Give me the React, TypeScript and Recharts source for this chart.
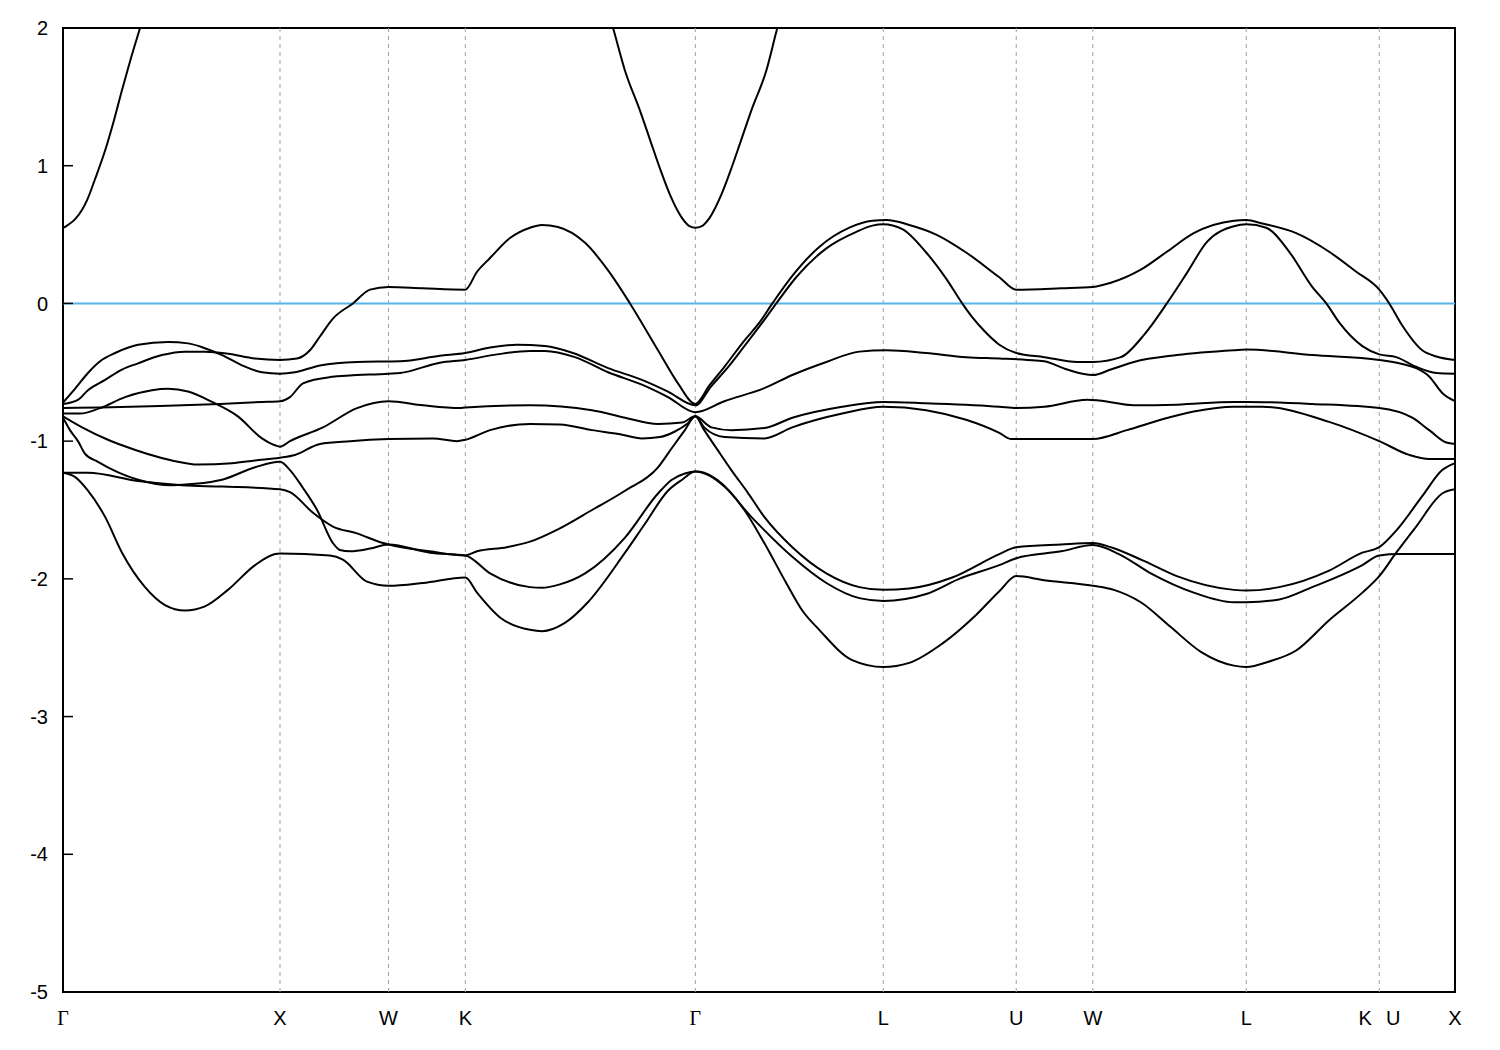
import React from "react";
import { LineChart, Line, XAxis, YAxis, ReferenceLine, ReferenceArea } from "recharts";

// High-symmetry points along the k-path (units of 2π/a); K|U share one position
const tickK = [0, 1, 1.5, 1.854, 2.914, 3.78, 4.393, 4.746, 5.453, 6.066, 6.415];
const tickLabels = ["Γ", "X", "W", "K", "Γ", "L", "U", "W", "L", "K|U", "X"];
const energyTicks = [-5, -4, -3, -2, -1, 0, 1, 2];
const fermiLevel = 0;
const kMax = 6.415;

type P = [number, number | null];

const band1: P[] = [
  [0, -1.23], [0.055, -1.26], [0.115, -1.36], [0.194, -1.55], [0.272, -1.81], [0.378, -2.06],
  [0.47, -2.19], [0.562, -2.23], [0.654, -2.2], [0.76, -2.08], [0.885, -1.9], [0.977, -1.82],
  [1.0, -1.815], [1.23, -1.83], [1.29, -1.86], [1.401, -2.02], [1.5, -2.05], [1.659, -2.03],
  [1.854, -1.99], [1.908, -2.1], [2.014, -2.28], [2.152, -2.37], [2.207, -2.38], [2.313, -2.32],
  [2.419, -2.17], [2.59, -1.81], [2.682, -1.6], [2.788, -1.36], [2.853, -1.28], [2.914, -1.22],
  [2.955, -1.23], [3.015, -1.28], [3.14, -1.5], [3.232, -1.74], [3.333, -2.03], [3.407, -2.23],
  [3.485, -2.37], [3.637, -2.59], [3.78, -2.64], [3.9, -2.61], [4.052, -2.47], [4.209, -2.26],
  [4.315, -2.09], [4.393, -1.98], [4.522, -2.01], [4.746, -2.05], [4.843, -2.08], [4.967, -2.17],
  [5.105, -2.35], [5.244, -2.53], [5.396, -2.63], [5.453, -2.64], [5.559, -2.6], [5.683, -2.52],
  [5.835, -2.3], [5.988, -2.1], [6.066, -1.98], [6.144, -1.81], [6.236, -1.62], [6.356, -1.38],
  [6.415, -1.35],
];

const band2: P[] = [
  [0, -0.83], [0.032, -0.92], [0.069, -1.0], [0.101, -1.09], [0.161, -1.15], [0.346, -1.28],
  [0.502, -1.32], [0.608, -1.31], [0.733, -1.28], [0.885, -1.19], [1.0, -1.15], [1.046, -1.21],
  [1.106, -1.34], [1.171, -1.5], [1.244, -1.74], [1.276, -1.79], [1.323, -1.8], [1.415, -1.78],
  [1.5, -1.75], [1.691, -1.81], [1.854, -1.83], [1.968, -1.96], [2.152, -2.06], [2.207, -2.065],
  [2.29, -2.04], [2.406, -1.96], [2.59, -1.7], [2.742, -1.38], [2.806, -1.28], [2.866, -1.235],
  [2.914, -1.22], [2.979, -1.25], [3.048, -1.33], [3.172, -1.55], [3.209, -1.61], [3.361, -1.84],
  [3.518, -2.03], [3.67, -2.14], [3.78, -2.16], [3.978, -2.11], [4.13, -2.0], [4.315, -1.9],
  [4.393, -1.85], [4.6, -1.8], [4.746, -1.755], [4.866, -1.82], [5.013, -1.96], [5.211, -2.1],
  [5.396, -2.17], [5.453, -2.17], [5.605, -2.15], [5.757, -2.06], [5.988, -1.9], [6.066, -1.83],
  [6.158, -1.82], [6.415, -1.82],
];

const band3: P[] = [
  [0, -1.23], [0.115, -1.23], [0.346, -1.29], [0.548, -1.32], [0.733, -1.33], [1.0, -1.35],
  [1.046, -1.37], [1.152, -1.52], [1.244, -1.62], [1.355, -1.67], [1.475, -1.74], [1.5, -1.75],
  [1.691, -1.8], [1.854, -1.83], [1.908, -1.8], [2.046, -1.77], [2.152, -1.73], [2.281, -1.64],
  [2.438, -1.5], [2.59, -1.36], [2.742, -1.19], [2.806, -1.05], [2.866, -0.92], [2.914, -0.82],
  [2.955, -0.92], [3.015, -1.06], [3.08, -1.21], [3.154, -1.37], [3.232, -1.55], [3.361, -1.77],
  [3.518, -1.96], [3.67, -2.06], [3.78, -2.08], [3.9, -2.07], [4.098, -1.99], [4.315, -1.82],
  [4.393, -1.77], [4.6, -1.75], [4.746, -1.74], [4.829, -1.77], [4.981, -1.87], [5.133, -1.98],
  [5.396, -2.08], [5.453, -2.085], [5.605, -2.06], [5.835, -1.94], [5.988, -1.81], [6.066, -1.77],
  [6.144, -1.65], [6.264, -1.4], [6.356, -1.21], [6.415, -1.16],
];

const band4: P[] = [
  [0, -0.82], [0.088, -0.9], [0.207, -0.99], [0.272, -1.03], [0.502, -1.14], [0.622, -1.17],
  [0.779, -1.16], [0.885, -1.14], [1.0, -1.12], [1.069, -1.1], [1.184, -1.02], [1.323, -1.0],
  [1.5, -0.985], [1.705, -0.98], [1.816, -1.0], [1.854, -0.99], [1.968, -0.92], [2.152, -0.875],
  [2.29, -0.88], [2.438, -0.92], [2.567, -0.95], [2.668, -0.98], [2.751, -0.97], [2.82, -0.93],
  [2.88, -0.87], [2.914, -0.82], [2.955, -0.9], [3.048, -0.97], [3.232, -0.98], [3.361, -0.9],
  [3.591, -0.8], [3.78, -0.75], [3.978, -0.775], [4.162, -0.845], [4.315, -0.94], [4.37, -0.985],
  [4.393, -0.985], [4.6, -0.985], [4.746, -0.985], [4.903, -0.92], [5.059, -0.845], [5.211, -0.785],
  [5.396, -0.75], [5.453, -0.75], [5.527, -0.75], [5.835, -0.86], [6.066, -1.0], [6.204, -1.1],
  [6.296, -1.13], [6.415, -1.13],
];

const band5: P[] = [
  [0, -0.8], [0.078, -0.8], [0.171, -0.76], [0.286, -0.68], [0.41, -0.63], [0.484, -0.62],
  [0.576, -0.64], [0.687, -0.715], [0.806, -0.82], [0.917, -0.98], [0.977, -1.03], [1.0, -1.04],
  [1.046, -1.0], [1.198, -0.9], [1.355, -0.76], [1.5, -0.71], [1.659, -0.74], [1.829, -0.76],
  [1.854, -0.755], [2.152, -0.74], [2.438, -0.775], [2.59, -0.83], [2.742, -0.875], [2.853, -0.865],
  [2.914, -0.82], [2.988, -0.9], [3.08, -0.92], [3.232, -0.905], [3.361, -0.83], [3.591, -0.75],
  [3.78, -0.715], [3.978, -0.725], [4.315, -0.75], [4.393, -0.76], [4.522, -0.75], [4.72, -0.7],
  [4.774, -0.705], [4.935, -0.74], [5.133, -0.735], [5.396, -0.715], [5.453, -0.715], [5.757, -0.73],
  [6.066, -0.76], [6.218, -0.83], [6.296, -0.92], [6.375, -1.01], [6.415, -1.02],
];

const band6: P[] = [
  [0, -0.76], [0.171, -0.755], [0.447, -0.745], [0.724, -0.73], [0.917, -0.715], [1.0, -0.71],
  [1.046, -0.68], [1.106, -0.58], [1.23, -0.535], [1.5, -0.51], [1.553, -0.505], [1.737, -0.43],
  [1.854, -0.41], [2.0, -0.37], [2.152, -0.345], [2.221, -0.345], [2.359, -0.39], [2.512, -0.5],
  [2.668, -0.59], [2.788, -0.68], [2.914, -0.79], [3.048, -0.71], [3.232, -0.615], [3.361, -0.52],
  [3.518, -0.425], [3.67, -0.35], [3.794, -0.34], [3.978, -0.36], [4.162, -0.39], [4.315, -0.4],
  [4.444, -0.41], [4.522, -0.42], [4.628, -0.48], [4.746, -0.52], [4.829, -0.48], [4.935, -0.425],
  [5.133, -0.375], [5.396, -0.34], [5.453, -0.335], [5.757, -0.375], [6.066, -0.41], [6.172, -0.44],
  [6.236, -0.47], [6.296, -0.53], [6.356, -0.65], [6.415, -0.71],
];

const band7: P[] = [
  [0, -0.72], [0.055, -0.62], [0.115, -0.505], [0.171, -0.42], [0.24, -0.36], [0.346, -0.3],
  [0.484, -0.28], [0.576, -0.29], [0.654, -0.325], [0.733, -0.375], [0.825, -0.45], [0.917, -0.5],
  [1.0, -0.51], [1.069, -0.5], [1.184, -0.45], [1.355, -0.425], [1.553, -0.42], [1.737, -0.38],
  [1.854, -0.36], [1.968, -0.32], [2.092, -0.3], [2.221, -0.31], [2.35, -0.36], [2.512, -0.47],
  [2.668, -0.555], [2.788, -0.64], [2.914, -0.74], [2.988, -0.6], [3.061, -0.47], [3.14, -0.31],
  [3.232, -0.12], [3.287, 0.0], [3.379, 0.19], [3.518, 0.4], [3.656, 0.52], [3.73, 0.565],
  [3.78, 0.575], [3.868, 0.54], [3.978, 0.37], [4.07, 0.18], [4.144, 0.0], [4.19, -0.1],
  [4.255, -0.215], [4.315, -0.3], [4.393, -0.36], [4.522, -0.39], [4.674, -0.425], [4.746, -0.425],
  [4.875, -0.39], [4.981, -0.23], [5.087, 0.0], [5.179, 0.22], [5.271, 0.445], [5.396, 0.56],
  [5.453, 0.575], [5.545, 0.55], [5.651, 0.375], [5.757, 0.12], [5.822, 0.0], [5.882, -0.14],
  [5.988, -0.31], [6.066, -0.37], [6.144, -0.39], [6.236, -0.46], [6.329, -0.505], [6.415, -0.51],
];

const band8: P[] = [
  [0, -0.73], [0.069, -0.7], [0.115, -0.63], [0.194, -0.555], [0.272, -0.48], [0.346, -0.435],
  [0.456, -0.375], [0.562, -0.35], [0.654, -0.35], [0.76, -0.365], [0.885, -0.4], [1.0, -0.41],
  [1.078, -0.4], [1.138, -0.34], [1.184, -0.24], [1.244, -0.11], [1.336, 0.0], [1.415, 0.1],
  [1.5, 0.12], [1.659, 0.11], [1.854, 0.1], [1.908, 0.23], [1.968, 0.33], [2.06, 0.475],
  [2.152, 0.55], [2.207, 0.57], [2.281, 0.555], [2.406, 0.44], [2.512, 0.24], [2.613, 0.0],
  [2.742, -0.34], [2.834, -0.58], [2.914, -0.73], [2.979, -0.595], [3.048, -0.46], [3.14, -0.27],
  [3.209, -0.14], [3.269, 0.0], [3.361, 0.2], [3.485, 0.41], [3.624, 0.55], [3.73, 0.6],
  [3.794, 0.605], [3.9, 0.57], [4.024, 0.5], [4.162, 0.37], [4.315, 0.19], [4.393, 0.1],
  [4.6, 0.11], [4.746, 0.12], [4.829, 0.15], [4.967, 0.245], [5.087, 0.375], [5.211, 0.51],
  [5.396, 0.6], [5.453, 0.605], [5.527, 0.58], [5.683, 0.51], [5.835, 0.375], [5.96, 0.23],
  [6.066, 0.1], [6.112, 0.0], [6.172, -0.16], [6.264, -0.34], [6.329, -0.385], [6.415, -0.41],
];

const band9: P[] = [
  [0, 0.55], [0.009, 0.555], [0.023, 0.57], [0.055, 0.61], [0.088, 0.68], [0.111, 0.75],
  [0.147, 0.9], [0.194, 1.11], [0.235, 1.33], [0.272, 1.55], [0.313, 1.78], [0.355, 2.0],
  [0.378, 2.12], [1.5, null], [2.498, 2.2], [2.535, 2.0], [2.59, 1.69], [2.659, 1.4],
  [2.705, 1.19], [2.751, 0.98], [2.797, 0.79], [2.853, 0.62], [2.889, 0.56], [2.914, 0.55],
  [2.942, 0.56], [2.979, 0.62], [3.034, 0.79], [3.08, 0.98], [3.126, 1.19], [3.172, 1.4],
  [3.241, 1.69], [3.292, 2.0], [3.329, 2.2],
];

const bands = [band1, band2, band3, band4, band5, band6, band7, band8, band9];
const toData = (b: P[]) => b.map(([k, e]) => ({ k, e }));

const FONT = "'Liberation Sans', Arial, Helvetica, sans-serif";
const SERIF = "'Liberation Serif', 'DejaVu Serif', serif";

const KTick = (props: any) => {
  const { x, y, payload } = props;
  const label = tickLabels[tickK.indexOf(payload.value)] ?? "";
  const parts = label.split("|");
  const common = {
    y,
    dy: "0.71em",
    textAnchor: "middle" as const,
    fill: "#000",
    fontSize: 20,
  };
  if (parts.length === 2) {
    return (
      <g>
        <text {...common} x={x - 14} fontFamily={FONT}>{parts[0]}</text>
        <text {...common} x={x + 14} fontFamily={FONT}>{parts[1]}</text>
      </g>
    );
  }
  return (
    <text {...common} x={x} fontFamily={label === "Γ" ? SERIF : FONT}>
      {label}
    </text>
  );
};

export default function App() {
  return (
    <div style={{ width: 1484, height: 1030, fontFamily: FONT }}>
      <LineChart width={1484} height={1030} margin={{ top: 20, right: 0, bottom: 0, left: 0 }}>
        <XAxis
          dataKey="k"
          type="number"
          xAxisId="x"
          domain={[0, kMax]}
          allowDataOverflow
          ticks={tickK}
          interval={0}
          tick={<KTick />}
          tickLine={false}
          axisLine={false}
          tickSize={6}
          tickMargin={13}
          height={46}
        />
        <YAxis
          yAxisId="left"
          type="number"
          domain={[-5, 2]}
          allowDataOverflow
          ticks={energyTicks}
          interval={0}
          width={55}
          tick={{ fill: "#000", fontSize: 20, fontFamily: FONT }}
          tickLine={{ stroke: "#000", strokeWidth: 1.5 }}
          tickSize={-10}
          tickMargin={25}
          axisLine={false}
        />
        <YAxis
          yAxisId="right"
          orientation="right"
          type="number"
          domain={[-5, 2]}
          allowDataOverflow
          ticks={energyTicks}
          interval={0}
          width={37}
          tick={false}
          tickLine={{ stroke: "#000", strokeWidth: 1.5 }}
          tickSize={-10}
          axisLine={false}
        />
        {tickK.slice(1, -1).map((k, i) => (
          <ReferenceLine
            key={"g" + i}
            x={k}
            xAxisId="x"
            yAxisId="left"
            stroke="#a0a0a0"
            strokeWidth={1}
            strokeDasharray="4 4"
          />
        ))}
        <ReferenceLine y={fermiLevel} xAxisId="x" yAxisId="left" stroke="#56b4e9" strokeWidth={2} />
        {bands.map((b, i) => (
          <Line
            key={"b" + i}
            data={toData(b)}
            dataKey="e"
            xAxisId="x"
            yAxisId="left"
            type="monotone"
            stroke="#000"
            strokeWidth={2}
            dot={false}
            activeDot={false}
            connectNulls={false}
            isAnimationActive={false}
          />
        ))}
        <ReferenceArea
          x1={0}
          x2={kMax}
          y1={-5}
          y2={2}
          xAxisId="x"
          yAxisId="left"
          fill="none"
          fillOpacity={0}
          stroke="#000"
          strokeWidth={2}
        />
      </LineChart>
    </div>
  );
}
